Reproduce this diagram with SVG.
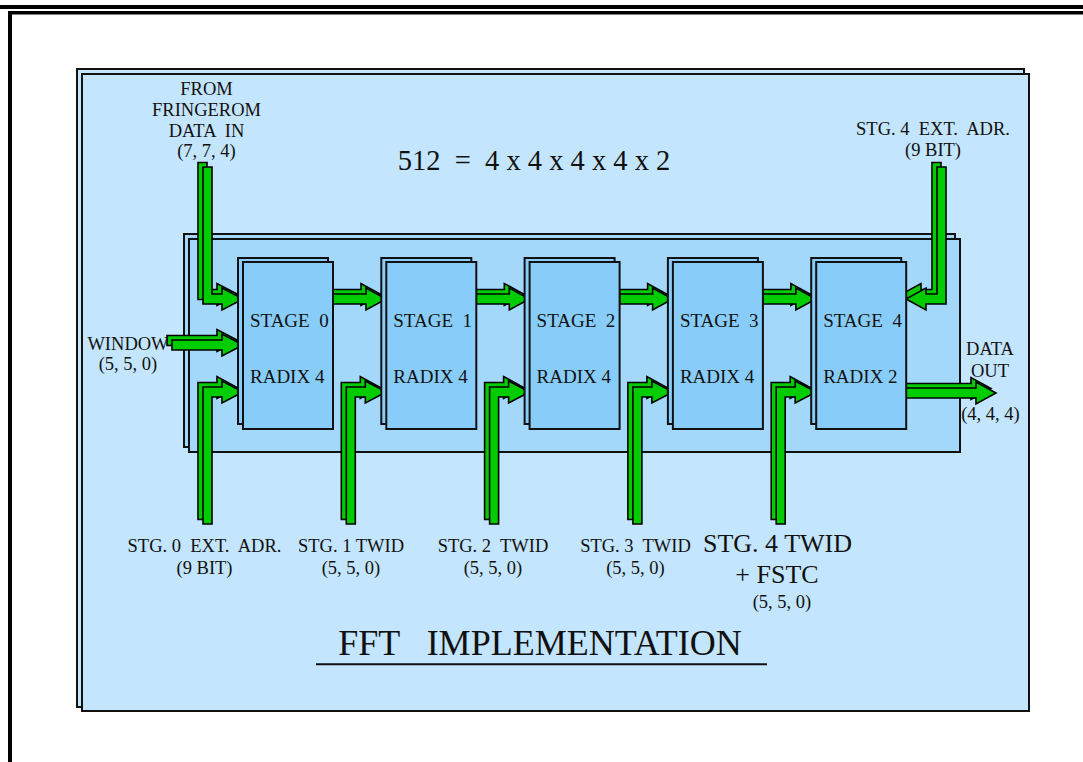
<svg xmlns="http://www.w3.org/2000/svg" xmlns:xlink="http://www.w3.org/1999/xlink" width="1083" height="762" viewBox="0 0 1083 762">
<style>
.t{font-family:"Liberation Serif","Times New Roman",serif;font-size:18.5px;fill:#111;white-space:pre}
.m{text-anchor:middle}
.st{font-size:19px}
.big{font-size:26px}
.frame{fill:#000}
.outer{fill:#c3e5fd;stroke:#111;stroke-width:2}
.inner{fill:#a3d8fb;stroke:#111;stroke-width:2}
.box{fill:#88cdfa;stroke:#111;stroke-width:2}
.arr{fill:#00cc00;stroke:#000;stroke-width:1.6;stroke-linejoin:miter}
</style>
<defs>
<g id="botL">
<polygon class="arr" points="198,519.5 198,382.5 217,382.5 217,376.5 237,387.5 217,398.5 217,392.5 207,392.5 207,519.5"/>
<polygon class="arr" points="203,524 203,387 222,387 222,381 243,392 222,403 222,397 212,397 212,524"/>
</g>
<g id="s2s">
<polygon class="arr" points="333,289.5 361,289.5 361,283.5 381,294.5 361,305.5 361,299.5 333,299.5"/>
<polygon class="arr" points="333,294 366,294 366,288 386,299 366,310 366,304 333,304"/>
</g>
</defs>
<rect width="1083" height="762" fill="#fff"/>
<g id="page-frame">
<rect class="frame" x="0" y="5" width="1083" height="4"/>
<rect class="frame" x="8" y="11" width="1075" height="3.5"/>
<rect class="frame" x="8" y="11" width="4" height="751"/>
</g>
<g id="outer-panel">
<rect class="outer" x="77" y="69" width="947" height="638"/>
<rect class="outer" x="82" y="74" width="947" height="637"/>
</g>
<g id="inner-panel">
<rect class="inner" x="184" y="234" width="771" height="213"/>
<rect class="inner" x="189" y="239" width="771" height="213"/>
</g>
<g id="connectors">
<g id="in-fringerom">
<polygon class="arr" points="198,162.5 207,162.5 207,289.5 217,289.5 217,283.5 238,294.5 217,305.5 217,299.5 198,299.5"/>
<polygon class="arr" points="203,167 212,167 212,294 222,294 222,288 243,299 222,310 222,304 203,304"/>
</g>
<g id="in-window">
<polygon class="arr" points="167,335.5 217,335.5 217,329.5 238,340.5 217,351.5 217,345.5 167,345.5"/>
<polygon class="arr" points="172,340 222,340 222,334 243,345 222,356 222,350 172,350"/>
</g>
<use xlink:href="#botL"/>
<use xlink:href="#botL" transform="translate(143.3,0)"/>
<use xlink:href="#botL" transform="translate(286.6,0)"/>
<use xlink:href="#botL" transform="translate(429.9,0)"/>
<use xlink:href="#botL" transform="translate(573.2,0)"/>
<use xlink:href="#s2s"/>
<use xlink:href="#s2s" transform="translate(143.3,0)"/>
<use xlink:href="#s2s" transform="translate(286.6,0)"/>
<use xlink:href="#s2s" transform="translate(429.9,0)"/>
<g id="in-stg4-ext">
<polygon class="arr" points="932,162.5 941,162.5 941,299.5 921,299.5 921,305.5 901,294.5 921,283.5 921,289.5 932,289.5"/>
<polygon class="arr" points="937,167 946,167 946,304 926,304 926,310 906,299 926,288 926,294 937,294"/>
</g>
<g id="out-data">
<polygon class="arr" points="906,383.5 971,383.5 971,377.5 991,388.5 971,399.5 971,393.5 906,393.5"/>
<polygon class="arr" points="906,388 976,388 976,382 996,393 976,404 976,398 906,398"/>
</g>
</g>
<g id="stage0">
<rect class="box" x="238" y="258" width="90" height="166"/>
<rect class="box" x="243" y="262" width="90" height="167"/>
<text class="t st" x="250" y="326.7">STAGE  0</text>
<text class="t st" x="250" y="382.7">RADIX 4</text>
</g>
<g id="stage1" transform="translate(143.3,0)">
<rect class="box" x="238" y="258" width="90" height="166"/>
<rect class="box" x="243" y="262" width="90" height="167"/>
<text class="t st" x="250" y="326.7">STAGE  1</text>
<text class="t st" x="250" y="382.7">RADIX 4</text>
</g>
<g id="stage2" transform="translate(286.6,0)">
<rect class="box" x="238" y="258" width="90" height="166"/>
<rect class="box" x="243" y="262" width="90" height="167"/>
<text class="t st" x="250" y="326.7">STAGE  2</text>
<text class="t st" x="250" y="382.7">RADIX 4</text>
</g>
<g id="stage3" transform="translate(429.9,0)">
<rect class="box" x="238" y="258" width="90" height="166"/>
<rect class="box" x="243" y="262" width="90" height="167"/>
<text class="t st" x="250" y="326.7">STAGE  3</text>
<text class="t st" x="250" y="382.7">RADIX 4</text>
</g>
<g id="stage4" transform="translate(573.2,0)">
<rect class="box" x="238" y="258" width="90" height="166"/>
<rect class="box" x="243" y="262" width="90" height="167"/>
<text class="t st" x="250" y="326.7">STAGE  4</text>
<text class="t st" x="250" y="382.7">RADIX 2</text>
</g>
<g id="label-fringerom">
<text class="t m" x="206.5" y="95">FROM</text>
<text class="t m" x="206.5" y="115.7">FRINGEROM</text>
<text class="t m" x="206.5" y="136.7">DATA  IN</text>
<text class="t m" x="206.5" y="157.3">(7, 7, 4)</text>
</g>
<g id="label-formula">
<text class="t m" x="534" y="170" style="font-size:28.5px">512  =  4 x 4 x 4 x 4 x 2</text>
</g>
<g id="label-stg4-ext">
<text class="t m" x="933" y="135">STG. 4  EXT.  ADR.</text>
<text class="t m" x="933" y="156">(9 BIT)</text>
</g>
<g id="label-window">
<text class="t m" x="128" y="350">WINDOW</text>
<text class="t m" x="128" y="370">(5, 5, 0)</text>
</g>
<g id="label-data-out">
<text class="t m" x="990" y="355">DATA</text>
<text class="t m" x="990" y="376.7">OUT</text>
<text class="t m" x="990.5" y="420">(4, 4, 4)</text>
</g>
<g id="label-stg0-ext">
<text class="t m" x="204.5" y="551.7">STG. 0  EXT.  ADR.</text>
<text class="t m" x="204.5" y="574">(9 BIT)</text>
</g>
<g id="label-stg1-twid">
<text class="t m" x="351" y="551.7">STG. 1 TWID</text>
<text class="t m" x="351" y="574">(5, 5, 0)</text>
</g>
<g id="label-stg2-twid">
<text class="t m" x="493" y="551.7">STG. 2  TWID</text>
<text class="t m" x="493" y="574">(5, 5, 0)</text>
</g>
<g id="label-stg3-twid">
<text class="t m" x="635.5" y="551.7">STG. 3  TWID</text>
<text class="t m" x="635.5" y="574">(5, 5, 0)</text>
</g>
<g id="label-stg4-twid">
<text class="t m big" x="777.5" y="551.7">STG. 4 TWID</text>
<text class="t m big" x="777" y="583.3">+ FSTC</text>
<text class="t m" x="782" y="608.3">(5, 5, 0)</text>
</g>
<g id="title">
<text class="t m" x="540" y="655" style="font-size:36px">FFT   IMPLEMENTATION</text>
<line x1="316" y1="664.3" x2="767" y2="664.3" stroke="#111" stroke-width="2"/>
</g>
</svg>
